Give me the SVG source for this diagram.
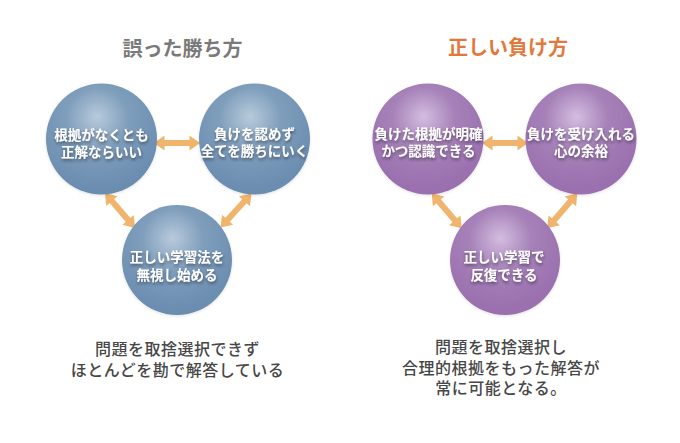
<svg xmlns="http://www.w3.org/2000/svg" xmlns:xlink="http://www.w3.org/1999/xlink" width="680" height="443" viewBox="0 0 680 443">
  <style>
    .title { font-family: "Noto Sans CJK JP", "Noto Sans", sans-serif; font-size: 20px; font-weight: bold; text-anchor: middle; }
    .t-gray { fill: #7a7a7a; }
    .t-orange { fill: #e2793c; }
    .node-text { font-family: "Noto Sans CJK JP", "Noto Sans", sans-serif; font-size: 13.5px; font-weight: bold; fill: #ffffff; text-anchor: middle; filter: url(#txtShadow); }
    .note { font-family: "Noto Sans CJK JP", "Noto Sans", sans-serif; font-size: 16px; font-weight: 500; fill: #474747; text-anchor: middle; letter-spacing: 0.5px; }
    .arrow { fill: #f0b46c; }
    .blue { fill: url(#gBlue); filter: url(#circShadow); }
    .purple { fill: url(#gPurple); filter: url(#circShadow); }
  </style>
  <defs>
    <radialGradient id="gBlue" cx="0.46" cy="0.33" r="0.62" fx="0.46" fy="0.3">
      <stop offset="0" stop-color="#b8cadb"/>
      <stop offset="0.45" stop-color="#7f9ebc"/>
      <stop offset="1" stop-color="#6b8db0"/>
    </radialGradient>
    <radialGradient id="gPurple" cx="0.46" cy="0.33" r="0.62" fx="0.46" fy="0.3">
      <stop offset="0" stop-color="#d4bde0"/>
      <stop offset="0.45" stop-color="#a682b9"/>
      <stop offset="1" stop-color="#9a6fae"/>
    </radialGradient>
    <filter id="circShadow" x="-20%" y="-20%" width="140%" height="140%">
      <feDropShadow dx="0" dy="1" stdDeviation="1.5" flood-color="#000" flood-opacity="0.12"/>
    </filter>
    <filter id="txtShadow" x="-10%" y="-30%" width="120%" height="170%">
      <feDropShadow dx="0.5" dy="2" stdDeviation="1.5" flood-color="#1a1a2a" flood-opacity="0.55"/>
    </filter>
    <path id="dbl" class="arrow" d="M-23,0 L-12.5,-7.5 L-12.5,-3 L12.5,-3 L12.5,-7.5 L23,0 L12.5,7.5 L12.5,3 L-12.5,3 L-12.5,7.5 Z"/>
  </defs>

  <rect width="680" height="443" fill="#ffffff"/>

  <text class="title t-gray" x="182.5" y="55.5">誤った勝ち方</text>
  <text class="title t-orange" x="508" y="55">正しい負け方</text>

  <g id="connectors">
    <use xlink:href="#dbl" transform="translate(177,143)"/>
    <use xlink:href="#dbl" transform="translate(120,210.5) rotate(49.4)"/>
    <use xlink:href="#dbl" transform="translate(236,210.5) rotate(132.4)"/>
    <use xlink:href="#dbl" transform="translate(505,143)"/>
    <use xlink:href="#dbl" transform="translate(446.7,210.8) rotate(49.4)"/>
    <use xlink:href="#dbl" transform="translate(562.3,210.8) rotate(130.6)"/>
  </g>

  <g id="w1">
    <circle class="blue" cx="101.5" cy="139" r="55.5"/>
    <text class="node-text" x="101.5" y="139.5">根拠がなくとも</text>
    <text class="node-text" x="101.5" y="157">正解ならいい</text>
  </g>
  <g id="w2">
    <circle class="blue" cx="254.5" cy="139" r="55.5"/>
    <text class="node-text" x="254.5" y="138.5">負けを認めず</text>
    <text class="node-text" x="254.5" y="156">全てを勝ちにいく</text>
  </g>
  <g id="w3">
    <circle class="blue" cx="177" cy="260" r="55"/>
    <text class="node-text" x="177" y="262">正しい学習法を</text>
    <text class="node-text" x="177" y="280">無視し始める</text>
  </g>

  <g id="r1">
    <circle class="purple" cx="428" cy="139" r="55.5"/>
    <text class="node-text" x="428.5" y="138.5">負けた根拠が明確</text>
    <text class="node-text" x="428.5" y="156">かつ認識できる</text>
  </g>
  <g id="r2">
    <circle class="purple" cx="581" cy="139" r="55.5"/>
    <text class="node-text" x="581" y="138.5">負けを受け入れる</text>
    <text class="node-text" x="581" y="156">心の余裕</text>
  </g>
  <g id="r3">
    <circle class="purple" cx="505" cy="260" r="55"/>
    <text class="node-text" x="504" y="262">正しい学習で</text>
    <text class="node-text" x="504" y="280">反復できる</text>
  </g>

  <g id="note-left">
    <text class="note" x="177.5" y="354.5">問題を取捨選択できず</text>
    <text class="note" x="177.5" y="376">ほとんどを勘で解答している</text>
  </g>
  <g id="note-right">
    <text class="note" x="501" y="353">問題を取捨選択し</text>
    <text class="note" x="501" y="373.5">合理的根拠をもった解答が</text>
    <text class="note" x="501" y="394">常に可能となる。</text>
  </g>
</svg>
